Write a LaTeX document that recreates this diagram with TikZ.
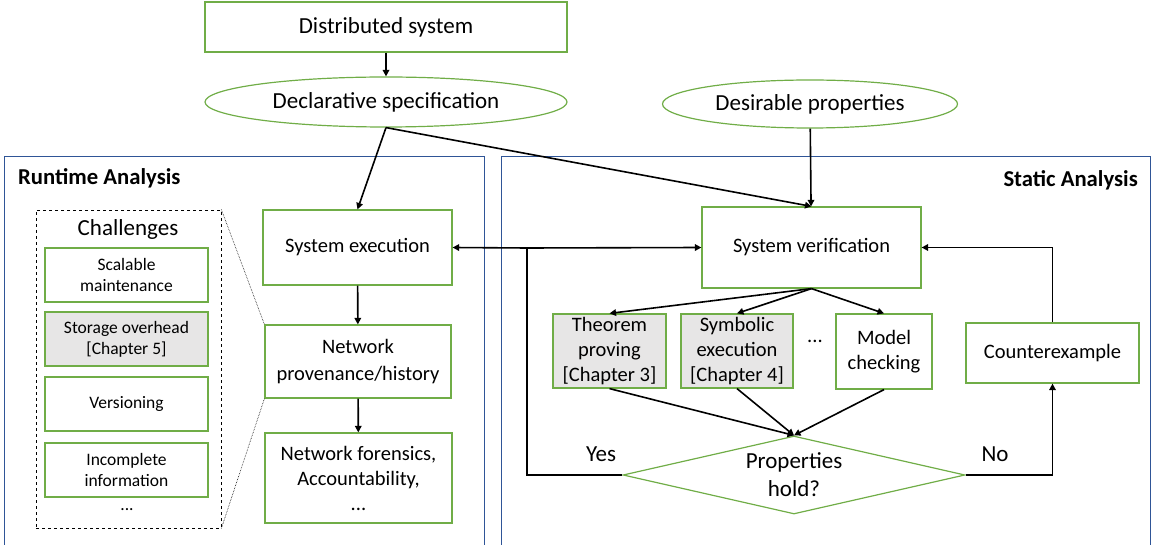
\documentclass[tikz,border=0pt]{standalone}
\usepackage{fontspec}
\setmainfont{Carlito}
\usetikzlibrary{shapes.geometric,arrows.meta}
\definecolor{boxgreen}{HTML}{70AD47}
\definecolor{frameblue}{HTML}{2F5597}
\definecolor{chapgray}{HTML}{E7E6E6}
\tikzset{
  box/.style={draw=boxgreen, line width=1.2pt, align=center, inner sep=0pt,
    font=\fontsize{20.5}{25}\selectfont},
  bigbox/.style={box, font=\fontsize{23}{27}\selectfont},
  gbox/.style={box, fill=chapgray},
  sbox/.style={box, minimum width=163pt, minimum height=54pt,
    font=\fontsize{17.5}{21}\selectfont},
  ell/.style={bigbox, ellipse},
  frame/.style={draw=frameblue, line width=1pt},
  title/.style={font=\fontsize{22.7}{26}\selectfont\bfseries, inner sep=0pt},
  plain/.style={inner sep=0pt, font=\fontsize{20.5}{25}\selectfont},
  bigplain/.style={inner sep=0pt, font=\fontsize{23}{27}\selectfont},
  conn/.style={line width=1.6pt},
  arr/.style={conn, -{Triangle[length=6.5pt,width=6.5pt]}},
}
\begin{document}
\begin{tikzpicture}[x=1pt,y=-1pt]
\useasboundingbox (0,0) rectangle (1152,545);
\clip (0,0) rectangle (1152,545);

% analysis frames
\draw[frame] (4,157) rectangle (484,560);
\draw[frame] (501,157) rectangle (1150,560);
\node[title, anchor=west] (rtlabel) at (18,178) {Runtime Analysis};
\node[title, anchor=east] (stlabel) at (1138,180) {Static Analysis};

% inputs
\node[bigbox, minimum width=362pt, minimum height=50pt] (dist) at (386,27) {Distributed system};
\node[ell, minimum width=362pt, minimum height=50pt] (decl) at (386,102) {Declarative specification};
\node[ell, minimum width=295pt, minimum height=48pt] (des) at (810,104) {Desirable properties};

% runtime side
\node[draw, dashed, line width=0.8pt, minimum width=185pt, minimum height=318pt, inner sep=0pt] (chal) at (128.5,369) {};
\node[bigplain] (chaltitle) at (128,229) {Challenges};
\node[sbox] (scal) at (126.5,275) {Scalable\\maintenance};
\node[sbox, fill=chapgray] (stor) at (126.5,339) {Storage overhead\\{[Chapter 5]}};
\node[sbox] (vers) at (126.5,404) {Versioning};
\node[sbox] (incomp) at (126.5,470) {Incomplete\\information};
\node[plain, font=\fontsize{17.5}{21}\selectfont] (chaldots) at (127,510) {...};

\node[box, minimum width=189pt, minimum height=75pt] (sysexec) at (357.5,247.5) {System execution};
\node[box, minimum width=186pt, minimum height=73pt, font=\fontsize{20.5}{27}\selectfont] (prov) at (358,361.5) {Network\\provenance/history};
\node[box, minimum width=187pt, minimum height=90pt] (forens) at (358.5,478) {Network forensics,\\Accountability,\\...};

\draw[densely dotted, line width=0.6pt] (chal.north east) -- (prov.north west);
\draw[densely dotted, line width=0.6pt] (chal.south east) -- (prov.south west);

% static side
\node[box, minimum width=219pt, minimum height=81pt] (verif) at (811.5,247.5) {System verification};
\node[gbox, minimum width=113pt, minimum height=74pt] (thm) at (609.5,351) {Theorem\\proving\\{[Chapter 3]}};
\node[gbox, minimum width=112pt, minimum height=74pt] (symb) at (737,351) {Symbolic\\execution\\{[Chapter 4]}};
\node[plain] (techdots) at (815,341) {...};
\node[box, minimum width=96pt, minimum height=75pt] (model) at (884,351.5) {Model\\checking};
\node[box, minimum width=173pt, minimum height=60pt] (counter) at (1052.5,353) {Counterexample};
\node[box, diamond, aspect=4.4, minimum width=342pt, minimum height=78pt,
  font=\fontsize{23}{28}\selectfont] (props) at (794,475) {Properties\\hold?};
\node[bigplain] (yes) at (601,454) {Yes};
\node[bigplain] (no) at (995,454) {No};

% connectors
\draw[arr] (dist) -- (decl);
\draw[arr] (decl.south) -- (sysexec.north);
\draw[arr] (decl.south) -- (verif.north);
\draw[arr] (des) -- (verif);
\draw[arr] (sysexec) -- (prov);
\draw[arr] (prov) -- (forens);

\draw[arr] (verif.south) -- (thm.north);
\draw[arr] (verif.south) -- (symb.north);
\draw[arr] (verif.south) -- (model.north);
\draw[arr] (thm.south) -- (props.north);
\draw[arr] (symb.south) -- (props.north);
\draw[arr] (model.south) -- (props.north);

\coordinate (yesturn) at (527,248);
\draw[conn] (props.west) -| (yesturn);
\draw[arr] (yesturn) -- (sysexec.east);
\draw[arr] (yesturn) -- (verif.west);
\draw[arr] (props.east) -| (counter.south);
\draw[arr] (counter.north) |- (verif.east);
\end{tikzpicture}
\end{document}
